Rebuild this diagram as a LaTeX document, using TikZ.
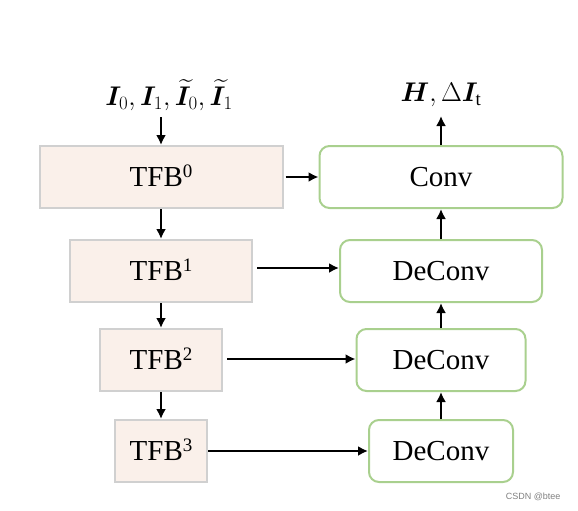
\RequirePackage{fix-cm}
\documentclass[tikz,border=0pt]{standalone}
\usepackage{amsmath,bm}
\usepackage{fontspec}
\setmainfont{Liberation Serif}
\usetikzlibrary{arrows.meta}
\definecolor{tfbfill}{HTML}{FAF0EA}
\definecolor{tfbline}{HTML}{D0D0D0}
\definecolor{convline}{HTML}{A9D08E}
\newcommand{\lvl}[1]{\smash{\raisebox{8.5pt}{\fontsize{19}{20}\selectfont #1}}}
\begin{document}
\begin{tikzpicture}[x=1pt,y=-1pt,
  tfb/.style={draw=tfbline,fill=tfbfill,line width=2pt,inner sep=0pt,minimum height=62pt,font=\fontsize{29}{30}\selectfont},
  conv/.style={draw=convline,rounded corners=10pt,line width=2pt,inner sep=0pt,minimum height=62pt,font=\fontsize{29}{30}\selectfont},
  arr/.style={line width=2pt,-{Latex[length=10pt,width=10pt]}}]
  \useasboundingbox (0,0) rectangle (578,511);
  % encoder side
  \node[tfb,minimum width=243pt] (tfb0) at (161,177) {TFB\lvl{0}};
  \node[tfb,minimum width=182pt] (tfb1) at (161,271) {TFB\lvl{1}};
  \node[tfb,minimum width=122pt] (tfb2) at (161,360) {TFB\lvl{2}};
  \node[tfb,minimum width=92pt] (tfb3) at (161,451) {TFB\lvl{3}};
  % decoder side
  \node[conv,minimum width=243pt] (conv) at (441,177) {Conv};
  \node[conv,minimum width=202pt] (dec1) at (441,271) {DeConv};
  \node[conv,minimum width=169pt] (dec2) at (441,360) {DeConv};
  \node[conv,minimum width=144pt] (dec3) at (441,451) {DeConv};
  % labels
  \node[font=\fontsize{27}{30}\selectfont,inner sep=0pt] (inp) at (169,95) {$\bm{I}_0,\bm{I}_1,\widetilde{\bm{I}}_0,\widetilde{\bm{I}}_1$};
  \node[font=\fontsize{27}{30}\selectfont,inner sep=0pt] (out) at (441,95) {$\bm{H},\Delta\bm{I}_{\mathrm{t}}$};
  \coordinate (inpend) at (161,117);
  \coordinate (outend) at (441,116);
  % connectors
  \draw[arr] (inpend) -- (tfb0);
  \draw[arr] (tfb0) -- (tfb1);
  \draw[arr] (tfb1) -- (tfb2);
  \draw[arr] (tfb2) -- (tfb3);
  \draw[arr] (tfb0.east) ++(2,0) coordinate (a0) (a0) -- (conv);
  \draw[arr] (tfb1.east) ++(4,-3) coordinate (a1) (a1) -- (dec1.west |- a1);
  \draw[arr] (tfb2.east) ++(4,-1) coordinate (a2) (a2) -- (dec2.west |- a2);
  \draw[arr] (tfb3) -- (dec3);
  \draw[arr] (dec3) -- (dec2);
  \draw[arr] (dec2) -- (dec1);
  \draw[arr] (dec1) -- (conv);
  \draw[arr] (conv) -- (outend);
  \node[font=\fontsize{9}{10}\selectfont\setmainfont{Liberation Sans},text=gray,anchor=east] (mark) at (564,497) {CSDN @btee};
\end{tikzpicture}
\end{document}
